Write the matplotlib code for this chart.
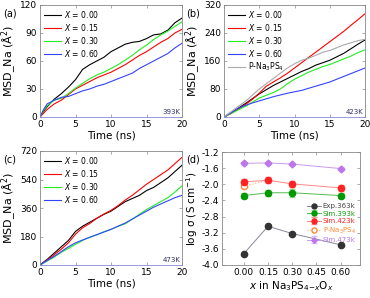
import matplotlib.pyplot as plt
import numpy as np

# time axis (ns), MSD values every 1 ns
t = [0, 0.5, 1, 2, 3, 4, 5, 6, 7, 8, 9, 10, 11, 12, 13, 14, 15, 16, 17, 18, 19, 20]

a_000 = [0, 6, 11, 19, 25, 32, 40, 51, 56, 60, 64, 70, 74, 78, 80, 81, 84, 88, 89, 93, 101, 106]
a_015 = [0, 4, 8, 14, 18, 24, 30, 34, 38, 42, 45, 48, 52, 56, 61, 66, 70, 75, 80, 84, 90, 94]
a_030 = [0, 7, 12, 18, 20, 25, 31, 36, 41, 45, 48, 52, 56, 61, 66, 72, 77, 83, 88, 92, 97, 102]
a_060 = [0, 8, 14, 18, 21, 22, 25, 28, 30, 33, 35, 38, 41, 44, 47, 52, 56, 60, 64, 68, 74, 79]

b_000 = [0, 6, 12, 25, 38, 52, 66, 78, 90, 100, 110, 120, 130, 138, 148, 155, 162, 172, 182, 195, 208, 220]
b_015 = [0, 5, 10, 22, 35, 50, 68, 88, 100, 112, 125, 140, 155, 170, 185, 200, 215, 230, 245, 262, 278, 295]
b_030 = [0, 5, 10, 20, 30, 42, 54, 62, 70, 80, 95, 108, 118, 128, 136, 144, 150, 158, 166, 174, 184, 192]
b_060 = [0, 6, 12, 25, 33, 40, 46, 52, 58, 63, 68, 72, 76, 82, 88, 94, 100, 108, 116, 124, 132, 140]
b_pna = [0, 8, 15, 30, 44, 62, 80, 95, 110, 125, 140, 152, 162, 168, 176, 185, 190, 198, 206, 212, 218, 222]

c_000 = [0, 18, 35, 75, 115, 155, 212, 245, 270, 295, 320, 340, 370, 400, 420, 440, 470, 490, 520, 550, 590, 630]
c_015 = [0, 15, 30, 65, 100, 140, 195, 235, 262, 295, 322, 345, 375, 410, 440, 475, 510, 540, 570, 600, 640, 680]
c_030 = [0, 12, 25, 50, 80, 105, 130, 155, 175, 190, 210, 225, 245, 260, 290, 320, 350, 375, 400, 425, 460, 500]
c_060 = [0, 14, 28, 55, 85, 115, 140, 158, 175, 192, 208, 225, 245, 265, 290, 315, 340, 365, 385, 405, 425, 440]

# panel (d): log conductivity vs x
xd = [0.00, 0.15, 0.30, 0.60]
exp363 = [-3.72, -3.04, -3.22, -3.50]
sim393 = [-2.28, -2.21, -2.21, -2.28]
sim393_err = [0.07, 0.07, 0.10, 0.07]
sim423 = [-1.94, -1.90, -1.99, -2.09]
sim423_err = [0.06, 0.08, 0.08, 0.08]
sim473 = [-1.48, -1.47, -1.50, -1.61]
sim473_err = [0.03, 0.03, 0.03, 0.03]
pna_x = [0.00, 0.15]
pna_y = [-2.05, -1.90]

plt.rcParams['font.family'] = 'DejaVu Sans'
plt.rcParams['xtick.direction'] = 'in'
plt.rcParams['ytick.direction'] = 'in'
plt.rcParams['xtick.major.size'] = 2.5
plt.rcParams['ytick.major.size'] = 2.5
plt.rcParams['xtick.major.width'] = 0.5
plt.rcParams['ytick.major.width'] = 0.5

fig = plt.figure(figsize=(3.7, 2.98), dpi=100)
W, H = 370, 298


def box(l, t_, r, b):
    return [l / W, 1 - b / H, (r - l) / W, (b - t_) / H]


axa = fig.add_axes(box(40, 5, 182, 117))
axb = fig.add_axes(box(224, 5, 365, 117))
axc = fig.add_axes(box(40, 151, 182, 265))
axd = fig.add_axes(box(222, 152, 360, 265))

cols = ['black', 'red', '#22ee22', '#3344ff']
labs = ['$X$ = 0.00', '$X$ = 0.15', '$X$ = 0.30', '$X$ = 0.60']


def style(ax):
    for s in ax.spines.values():
        s.set_color('#888888')
        s.set_linewidth(0.6)
    ax.spines['bottom'].set_color('#8888dd')
    ax.tick_params(top=True, right=True, labelsize=6.5, colors='black', pad=2)
    ax.tick_params(axis='both', color='#888888')


def msd_panel(ax, series, ymax, step, temp):
    for y, c, l in zip(series, cols, labs):
        ax.plot(t, y, color=c, lw=0.8, label=l)
    ax.set_xlim(0, 20)
    ax.set_ylim(0, ymax)
    ax.set_xticks([0, 5, 10, 15, 20])
    ax.set_yticks(np.arange(0, ymax + 1, step))
    ax.set_xlabel('Time (ns)', fontsize=7.5, labelpad=1)
    ax.set_ylabel('MSD_Na (Å$^2$)', fontsize=8, labelpad=1)
    ax.text(0.99, 0.02, temp, transform=ax.transAxes, ha='right', va='bottom',
            fontsize=5, color='#333366')
    style(ax)


msd_panel(axa, [a_000, a_015, a_030, a_060], 120, 30, '393K')
msd_panel(axb, [b_000, b_015, b_030, b_060], 320, 80, '423K')
axb.plot(t, b_pna, color='#aaaaaa', lw=0.8, label='P-Na$_3$PS$_4$')
msd_panel(axc, [c_000, c_015, c_030, c_060], 720, 180, '473K')

for ax in (axa, axb, axc):
    ax.legend(loc='upper left', frameon=False, fontsize=5.5, handlelength=2.2,
              handletextpad=0.5, labelspacing=0.25, borderaxespad=0.3,
              borderpad=0.2)

# panel (d)
h1, = axd.plot(xd, exp363, color='#888899', lw=0.7, marker='o', ms=4.5,
               mfc='#333333', mec='#333333', label='Exp.363k')
h2 = axd.errorbar(xd, sim393, yerr=sim393_err, color='#55bb55', lw=0.7, marker='o',
                  ms=4.5, mfc='#009900', mec='#009900', ecolor='#99dd99', capsize=2,
                  elinewidth=0.6, label='Sim.393k')
h3 = axd.errorbar(xd, sim423, yerr=sim423_err, color='#ff8888', lw=0.7, marker='o',
                  ms=4.5, mfc='#ff2222', mec='#ff2222', ecolor='#ff9999', capsize=2,
                  elinewidth=0.6, label='Sim.423k')
h4, = axd.plot(pna_x, pna_y, color='#ffaa66', lw=0.8, ls=':', marker='o', ms=4.5,
               mfc='white', mec='#ff8833', markevery=[0], label='P-Na$_3$PS$_4$')
h5 = axd.errorbar(xd, sim473, yerr=sim473_err, color='#cc99ee', lw=0.7, marker='D',
                  ms=3.5, mfc='#bb77ee', mec='#bb77ee', ecolor='#ddbbff', capsize=2,
                  elinewidth=0.6, label='Sim.473k')
axd.set_xlim(-0.135, 0.72)
axd.set_ylim(-4.0, -1.2)
axd.set_xticks([0.00, 0.15, 0.30, 0.45, 0.60])
axd.set_xticklabels(['0.00', '0.15', '0.30', '0.45', '0.60'])
axd.set_yticks(np.arange(-4.0, -1.19, 0.4))
axd.set_yticklabels(['%.1f' % v for v in np.arange(-4.0, -1.19, 0.4)])
axd.set_xlabel('$x$ in Na$_3$PS$_{4\\mathregular{-}x}$O$_x$', fontsize=7.5, labelpad=2)
axd.set_ylabel('log σ (S cm$^{-1}$)', fontsize=7.5, labelpad=1)
style(axd)
axd.spines['bottom'].set_color('#888888')
handles = [h1, h2, h3, h4, h5]
leg = axd.legend(handles, [h.get_label() for h in handles], loc='center right',
                 bbox_to_anchor=(1.0, 0.37), frameon=False,
                 fontsize=5, handlelength=2.0, handletextpad=0.3,
                 labelspacing=0.2, borderpad=0.1, markerscale=0.8)
for txt, c in zip(leg.get_texts(), ['#444444', '#119911', '#ff2222', '#ff8833', '#bb77ee']):
    txt.set_color(c)

for lab, x, y in [('(a)', 3, 14), ('(b)', 186, 14), ('(c)', 3, 160), ('(d)', 186, 160)]:
    fig.text(x / W, 1 - y / H, lab, fontsize=7, va='center', ha='left')

fig.savefig('out.png', dpi=100)
